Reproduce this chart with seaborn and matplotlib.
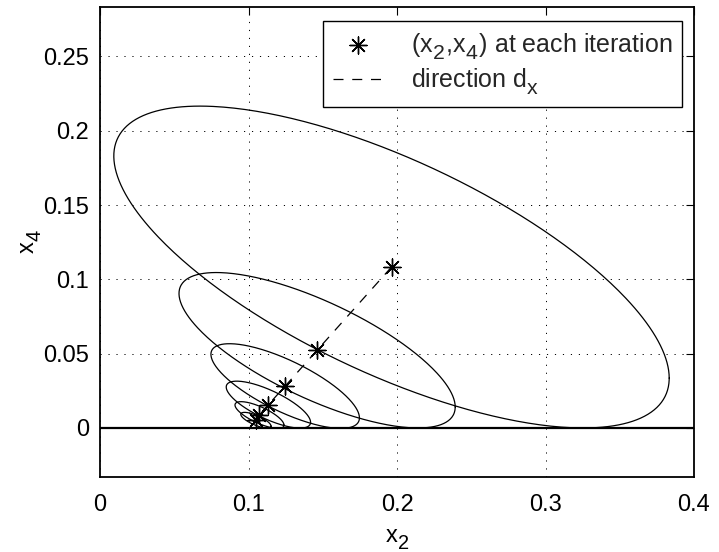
import numpy as np
import pandas as pd
import matplotlib
matplotlib.use("Agg")
import matplotlib.pyplot as plt
import seaborn as sns

# MATLAB-style larger, lower subscripts
try:
    import matplotlib._mathtext as _mt
    _mt.SHRINK_FACTOR = 0.85
    _mt.FontConstantsBase.sub1 = 0.55
    _mt.FontConstantsBase.sub2 = 0.6
    _mt.FontConstantsBase.script_space = 0.12
except Exception:
    pass

# ---- data ----
x2_iter = [0.1963, 0.1462, 0.1247, 0.1134, 0.1074, 0.1050]
x4_iter = [0.1083, 0.0523, 0.0282, 0.0157, 0.0087, 0.0052]
ell_half_x = [0.187, 0.093, 0.050, 0.0284, 0.0165, 0.0102]
ell_half_y = [0.1083, 0.0523, 0.0285, 0.0158, 0.0090, 0.0053]
ell_corr = [-0.69, -0.73, -0.75, -0.75, -0.75, -0.75]
x_ticks = [0, 0.1, 0.2, 0.3, 0.4]
x_tick_labels = ["0", "0.1", "0.2", "0.3", "0.4"]
y_ticks = [0, 0.05, 0.1, 0.15, 0.2, 0.25]
y_tick_labels = ["0", "0.05", "0.1", "0.15", "0.2", "0.25"]
x_lim = [0, 0.4]
y_lim = [-0.033, 0.2833]

sns.set_theme(style="white")
plt.rcParams["font.family"] = ["Liberation Sans", "DejaVu Sans"]
plt.rcParams["mathtext.default"] = "regular"

FS = 17
W, H = 719, 552
fig = plt.figure(figsize=(W / 100, H / 100), dpi=100)
ax = fig.add_axes([100 / W, (H - 477) / H, 594 / W, 470 / H])

# ellipses
t = np.linspace(0, 2 * np.pi, 400)
for cx, cy, hx, hy, r in zip(x2_iter, x4_iter, ell_half_x, ell_half_y, ell_corr):
    ex = cx + hx * np.cos(t)
    ey = cy + hy * (r * np.cos(t) + np.sqrt(1 - r * r) * np.sin(t))
    ax.plot(ex, ey, color="black", lw=0.9, zorder=2)

# constraint line x4 = 0
ax.axhline(0, color="black", lw=1.6, zorder=3)

df = pd.DataFrame({"x2": x2_iter, "x4": x4_iter})
sns.lineplot(data=df, x="x2", y="x4", sort=False, ax=ax, color="black",
             lw=0.9, linestyle=(0, (8, 7)), label="direction d$_x$", zorder=4)
sns.scatterplot(data=df, x="x2", y="x4", ax=ax, marker=(8, 2, 0), s=150,
                color="black", linewidth=1.0, edgecolor="black",
                label="(x$_2$,x$_4$) at each iteration", zorder=5)

ax.set_xlim(x_lim)
ax.set_ylim(y_lim)
ax.set_xticks(x_ticks)
ax.set_xticklabels(x_tick_labels)
ax.set_yticks(y_ticks)
ax.set_yticklabels(y_tick_labels)
ax.tick_params(direction="in", top=True, right=True, length=6, width=0.8,
               labelsize=FS, colors="black", pad=8)
ax.tick_params(axis="x", pad=12)
ax.grid(True, color="black", lw=0.7, linestyle=(0, (1.2, 7)))
for s in ax.spines.values():
    s.set_color("black")
    s.set_linewidth(1.3)

ax.set_xlabel("x$_2$", fontsize=FS, color="black")
ax.set_ylabel("x$_4$", fontsize=FS, color="black")
ax.xaxis.set_label_coords(0.5, -0.108)
ax.yaxis.set_label_coords(-0.095, 0.5)

handles, labels = ax.get_legend_handles_labels()
order = [labels.index("(x$_2$,x$_4$) at each iteration"), labels.index("direction d$_x$")]
leg = ax.legend([handles[i] for i in order], [labels[i] for i in order],
                loc="upper right", bbox_to_anchor=(682 / W, 1 - 21 / H),
                bbox_transform=fig.transFigure, fontsize=18, frameon=True,
                fancybox=False, edgecolor="black", framealpha=1,
                handlelength=2.0, borderpad=0.4, labelspacing=0.2,
                handletextpad=1.1, borderaxespad=0)
leg.get_frame().set_linewidth(1.0)

fig.savefig("out.png", dpi=100)
